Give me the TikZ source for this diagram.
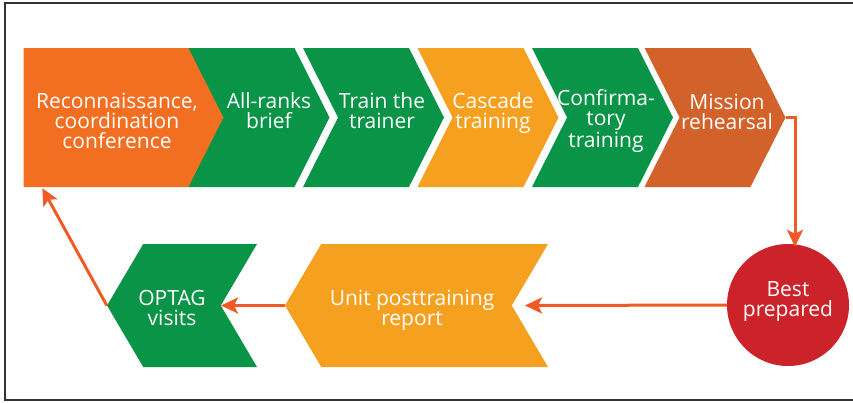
\documentclass[tikz,border=0pt]{standalone}
\usepackage{fontspec}
\setmainfont{Open Sans}
\usepackage{xcolor}
\usepackage{tikz}
\usetikzlibrary{shapes.symbols}
\usetikzlibrary{arrows.meta}

\definecolor{reconorange}{HTML}{F26F21}
\definecolor{stepgreen}{HTML}{0A9447}
\definecolor{cascadeorange}{HTML}{F6A01F}
\definecolor{missionorange}{HTML}{D2622A}
\definecolor{bestred}{HTML}{CC2229}
\definecolor{flowred}{HTML}{F15A24}

\begin{document}
\begin{tikzpicture}[x=1pt,y=-1pt,
	chev/.style={shape=signal, signal to=east, signal from=west, signal pointer angle=126.5, inner sep=0pt, minimum height=139, minimum width=141},
	backchev/.style={chev, signal to=west, signal from=east, signal pointer angle=119, minimum height=123},
	steptext/.style={text=white, align=center, inner sep=0pt, font=\fontsize{21}{20}\selectfont},
	flow/.style={draw=flowred, line width=3pt, -{Stealth[length=17pt,width=16pt,inset=4pt]}}]
			\useasboundingbox (0,0) rectangle (853,402);
			\draw[line width=2pt, black!80] (853,3) -- (5,3) -- (5,400) -- (853,400);

			\node[chev, signal from=nowhere, fill=reconorange, minimum width=205] (recon) at (108.5,117.5) {};
			\node[chev, fill=stepgreen](brief) at (259,117.5){};
			\node[chev, fill=stepgreen](trainer) at (373.5,117.5){};
			\node[chev, fill=cascadeorange](cascade) at (488,117.5){};
			\node[chev, fill=stepgreen](confirm) at (602.5,117.5){};
			\node[chev, fill=missionorange](mission) at (715,117.5){};
			\node[shape=circle, fill=bestred, inner sep=0pt, minimum size=122](best) at (788,305){};
			\node[backchev, fill=cascadeorange, minimum width=263](report) at (416.5,305.5){};
			\node[backchev, fill=stepgreen, minimum width=150](optag) at (182,305.5){};

			%% texts
			\node[steptext] (recon-t) at (117,121) {Reconnaissance,\\coordination\\conference};
			\node[steptext] (brief-t) at (269,111) {All-ranks\\brief};
			\node[steptext] (trainer-t) at (382,111) {Train the\\trainer};
			\node[steptext] (cascade-t) at (493,113.5) {Cascade\\training};
			\node[steptext] (confirm-t) at (606,121) {Confirma-\\tory\\training};
			\node[steptext] (mission-t) at (727,112) {Mission\\rehearsal};
			\node[steptext] (best-t) at (788,302) {Best\\prepared};
			\node[steptext] (report-t) at (412,310.5) {Unit posttraining\\report};
			\node[steptext] (optag-t) at (172,308) {OPTAG\\visits};

			%% lines
			\draw[flow] (mission.east) -| ([xshift=7pt,yshift=-3pt]best.north);
			\draw[flow] (best.west) -- ([xshift=13pt]report.east);
			\draw[flow] (report.west) -- (optag.east);
			\draw[flow] (optag.west) -- ([xshift=19pt,yshift=-1pt]recon.south west);
		\end{tikzpicture}
\end{document}
